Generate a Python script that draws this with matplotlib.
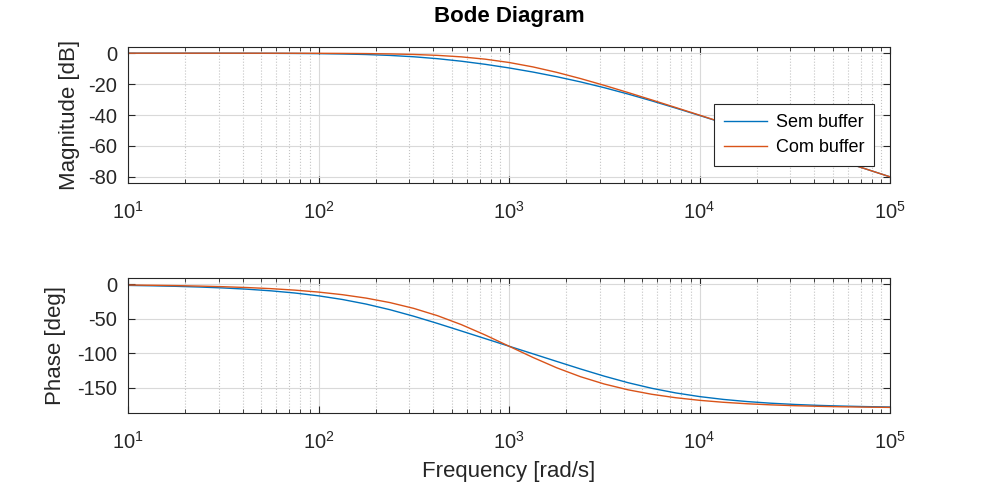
import numpy as np
import matplotlib
matplotlib.use('Agg')
import matplotlib.pyplot as plt
from matplotlib.ticker import LogLocator, NullFormatter, FixedLocator

plt.rcParams['font.family'] = ['Liberation Sans', 'DejaVu Sans']
plt.rcParams['mathtext.fontset'] = 'custom'
plt.rcParams['mathtext.rm'] = 'Liberation Sans'
plt.rcParams['mathtext.it'] = 'Liberation Sans:italic'
plt.rcParams['axes.unicode_minus'] = False

# frequency points (rad/s)
freq = [10.0, 13.34, 17.78, 23.71, 31.62, 42.17, 56.23, 74.99,
        100.0, 133.4, 177.8, 237.1, 316.2, 421.7, 562.3, 749.9,
        1000.0, 1334.0, 1778.0, 2371.0, 3162.0, 4217.0, 5623.0, 7499.0,
        10000.0, 13340.0, 17780.0, 23710.0, 31620.0, 42170.0, 56230.0, 74990.0,
        100000.0]

# "Sem buffer" magnitude [dB] and phase [deg]
mag_sem = [-0.003, -0.005, -0.010, -0.017, -0.030, -0.054, -0.095, -0.168,
           -0.294, -0.511, -0.872, -1.451, -2.330, -3.572, -5.203, -7.203,
           -9.542, -12.203, -15.203, -18.572, -22.330, -26.451, -30.872, -35.511,
           -40.294, -45.168, -50.095, -55.054, -60.030, -65.017, -70.010, -75.005,
           -80.003]
ph_sem = [-1.719, -2.292, -3.054, -4.071, -5.424, -7.223, -9.605, -12.748,
          -16.858, -22.167, -28.847, -37.005, -46.506, -56.980, -67.934, -78.990,
          -90.0, -101.010, -112.066, -123.020, -133.494, -142.995, -151.153, -157.833,
          -163.142, -167.252, -170.395, -172.777, -174.576, -175.929, -176.946, -177.708,
          -178.281]

# "Com buffer" magnitude [dB] and phase [deg]
mag_com = [-0.001, -0.002, -0.003, -0.005, -0.009, -0.015, -0.027, -0.049,
           -0.086, -0.153, -0.270, -0.475, -0.828, -1.421, -2.386, -3.875,
           -6.021, -8.875, -12.386, -16.421, -20.828, -25.474, -30.270, -35.152,
           -40.086, -45.047, -50.027, -55.015, -60.009, -65.004, -70.002, -75.001,
           -80.001]
ph_com = [-1.146, -1.529, -2.037, -2.716, -3.622, -4.829, -6.437, -8.577,
          -11.421, -15.196, -20.164, -26.676, -35.096, -45.734, -58.700, -73.728,
          -90.0, -106.272, -121.300, -134.266, -144.904, -153.324, -159.836, -164.804,
          -168.579, -171.423, -173.563, -175.171, -176.378, -177.284, -177.963, -178.471,
          -178.854]

labels = ['Sem buffer', 'Com buffer']
colors = ['#0072BD', '#D95319']
ink = '#262626'

fig = plt.figure(figsize=(9.84, 4.83), dpi=100)
ax1 = fig.add_axes([0.1301, 0.6211, 0.7744, 0.2816])
ax2 = fig.add_axes([0.1301, 0.1449, 0.7744, 0.2795])


def style(ax):
    ax.set_xscale('log')
    ax.set_xlim(10, 1e5)
    ax.xaxis.set_major_locator(LogLocator(base=10, numticks=10))
    ax.xaxis.set_minor_locator(LogLocator(base=10, subs=np.arange(2, 10), numticks=20))
    ax.xaxis.set_minor_formatter(NullFormatter())
    ax.grid(True, which='major', color='#d9d9d9', linewidth=0.8)
    ax.grid(True, which='minor', axis='x', color='#c4c4c4', linestyle=':', linewidth=0.8)
    ax.tick_params(which='both', direction='in', top=True, right=True,
                   colors=ink, labelsize=14.5)
    ax.tick_params(which='major', length=5, width=0.8)
    ax.tick_params(which='minor', length=3, width=0.6)
    ax.tick_params(axis='x', pad=13)
    ax.tick_params(axis='y', pad=8)
    for s in ax.spines.values():
        s.set_color(ink)
        s.set_linewidth(0.8)
    ax.set_axisbelow(True)


ax1.plot(freq, mag_sem, color=colors[0], lw=1, label=labels[0])
ax1.plot(freq, mag_com, color=colors[1], lw=1, label=labels[1])
style(ax1)
ax1.set_ylim(-84, 4)
ax1.yaxis.set_major_locator(FixedLocator([-80, -60, -40, -20, 0]))
ax1.set_ylabel('Magnitude [dB]', fontsize=16, color=ink, labelpad=6)
ax1.set_title('Bode Diagram', fontsize=16, fontweight='bold', pad=18, color='black')
leg = ax1.legend(loc='lower right', bbox_to_anchor=(0.979, 0.125), fontsize=13,
                 fancybox=False, framealpha=1, edgecolor=ink,
                 handlelength=2.4, borderpad=0.55, labelspacing=0.45,
                 handletextpad=0.45, borderaxespad=0)
leg.get_frame().set_linewidth(0.8)

ax2.plot(freq, ph_sem, color=colors[0], lw=1)
ax2.plot(freq, ph_com, color=colors[1], lw=1)
style(ax2)
ax2.set_ylim(-187, 9)
ax2.yaxis.set_major_locator(FixedLocator([-150, -100, -50, 0]))
ax2.set_ylabel('Phase [deg]', fontsize=16, color=ink, labelpad=8)
ax2.set_xlabel('Frequency [rad/s]', fontsize=16, color=ink, labelpad=6)

fig.savefig('out.png', dpi=100)
